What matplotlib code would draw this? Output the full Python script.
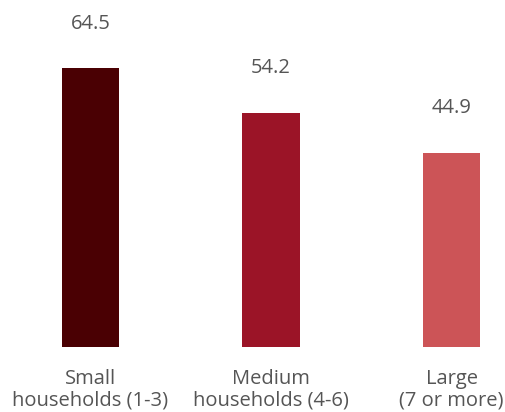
import matplotlib.pyplot as plt

categories = ['Small\nhouseholds (1-3)', 'Medium\nhouseholds (4-6)', 'Large\n(7 or more)']
values = [64.5, 54.2, 44.9]
colors = ['#4a0003', '#9b1427', '#cc5457']

plt.rcParams['font.family'] = ['Open Sans', 'DejaVu Sans']

fig = plt.figure(figsize=(5.05, 4.12), dpi=100)
ax = fig.add_axes([0, 0, 1, 1])

x = list(range(len(values)))
ax.bar(x, values, width=0.316, color=colors)

for xi, v, lab in zip(x, values, categories):
    ax.annotate(f'{v:.1f}', xy=(xi, v), xytext=(0, 32), textcoords='offset points',
                ha='center', va='center', fontsize=14.5, color='#555555')
    ax.annotate(lab, xy=(xi, 0), xytext=(0, -31), textcoords='offset points',
                ha='center', va='center', fontsize=14.5, color='#555555', linespacing=1.15)

ax.set_xlim(-0.501, 2.296)
ax.set_ylim(-15.1, 80.3)
ax.axis('off')

fig.savefig('out.png', dpi=100)
